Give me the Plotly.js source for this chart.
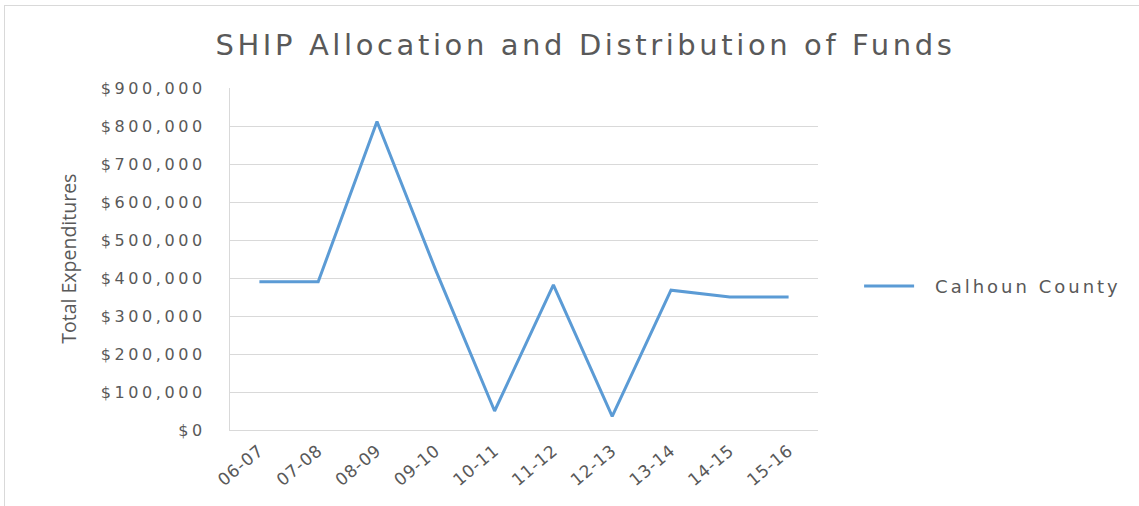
<!DOCTYPE html>
<html><head><meta charset="utf-8">
<script src="https://cdn.plot.ly/plotly-3.0.1.min.js"></script>
<style>
html,body{margin:0;padding:0;background:#fff;}
#frame{position:absolute;left:4px;top:5px;width:1135px;height:501px;border-top:1px solid #d9d9d9;border-left:1px solid #d9d9d9;}
#chart{position:absolute;left:0;top:0;width:1139px;height:506px;}
.ytick text{letter-spacing:3.6px;}
.legendtext{letter-spacing:3px;transform:translateX(16px);}
.legend, .legend *{clip-path:none !important;}
.gtitle{letter-spacing:3.6px;}
.xtick text{letter-spacing:0.8px;}
</style></head>
<body>
<div id="frame"></div>
<div id="chart"></div>
<script>
const years = ["06-07","07-08","08-09","09-10","10-11","11-12","12-13","13-14","14-15","15-16"];
const calhounCounty = [390000, 390000, 812000, 420000, 50000, 382000, 36000, 368000, 350000, 350000];
const yTickVals = [0,100000,200000,300000,400000,500000,600000,700000,800000,900000];
const yTickText = ["$0","$100,000","$200,000","$300,000","$400,000","$500,000","$600,000","$700,000","$800,000","$900,000"];
const yTitle = "Total Expenditures";
const chartTitle = "SHIP Allocation and Distribution of Funds";

const trace = {
  x: years, y: calhounCounty, type: "scatter", mode: "lines",
  name: "Calhoun County",
  line: {color: "#5B9BD5", width: 3}
};
const layout = {
  width: 1139, height: 506,
  margin: {l: 230, r: 321, t: 88, b: 76},
  paper_bgcolor: "rgba(0,0,0,0)", plot_bgcolor: "rgba(0,0,0,0)",
  title: {text: chartTitle, x: 0.514, xanchor: "center", y: 0.911, yanchor: "middle",
    font: {family: "DejaVu Sans, sans-serif", size: 29, color: "#595959"}},
  font: {family: "DejaVu Sans, sans-serif", color: "#595959"},
  xaxis: {type: "category", range: [-0.5, 9.5], showgrid: false, showline: true, linecolor: "#d9d9d9", linewidth: 1,
    tickangle: -40, tickfont: {size: 17, color: "#595959", family: "DejaVu Sans, sans-serif"}, ticks: "", ticklabelstandoff: 3, fixedrange: true},
  yaxis: {range: [0, 900000], tickvals: yTickVals, ticktext: yTickText, showgrid: true, gridcolor: "#d9d9d9", gridwidth: 1,
    showline: true, linecolor: "#d9d9d9", linewidth: 1, zeroline: false, ticks: "", ticklabelstandoff: 20,
    tickfont: {size: 16, color: "#595959", family: "DejaVu Sans, sans-serif"}},
  annotations: [{text: yTitle, xref: "paper", yref: "paper", x: -0.276, y: 0.5, xanchor: "center", yanchor: "middle",
    textangle: -90, showarrow: false, font: {size: 19.5, color: "#595959", family: "Open Sans, sans-serif"}}],
  showlegend: true,
  legend: {x: 1.0699, xanchor: "left", y: 0.42, yanchor: "middle", itemwidth: 50,
    font: {size: 18, color: "#595959", family: "DejaVu Sans, sans-serif"}, bgcolor: "rgba(0,0,0,0)"}
};
Plotly.newPlot("chart", [trace], layout, {displayModeBar: false, staticPlot: true});
</script>
</body></html>
